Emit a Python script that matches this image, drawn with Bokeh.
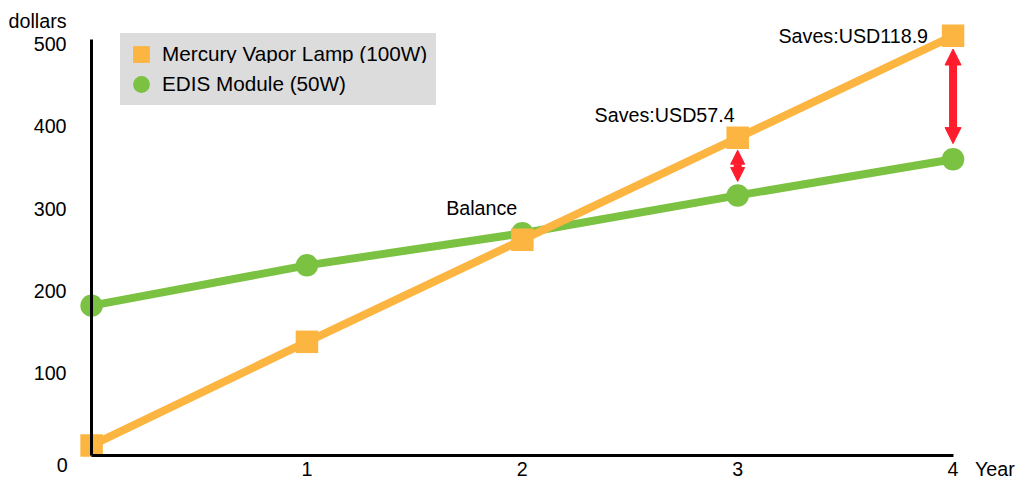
from bokeh.plotting import figure
from bokeh.models import (Range1d, FixedTicker, Legend, LegendItem, Arrow,
                          NormalHead)
from bokeh.core.properties import value
from bokeh.embed import file_html
from bokeh.resources import INLINE

# ---- data ----
years = [0, 1, 2, 3, 4]
mercury = [12, 138, 262, 386, 510]
edis = [182, 231, 270, 316, 360]
x_ticks = [1, 2, 3, 4]
y_ticks = [100, 200, 300, 400, 500]
series_names = ["Mercury Vapor Lamp (100W)", "EDIS Module (50W)"]
note_text = ["Balance", "Saves:USD57.4", "Saves:USD118.9"]
note_x = [2, 3, 4]
note_y = [270, 386, 510]
arrow_x = [3, 4]
arrow_top = [371, 494]
arrow_bottom = [333, 379]
y_axis_top = 506

# ---- layout / style ----
note_dx = [-5, -3, -25]
note_dy = [-25, -23, 0]
arrow_head = [14, 16]
legend_pos = [(120, 404), (120, 374)]
ORANGE = "#FCB541"
GREEN = "#7CC242"
RED = "#FF1C2C"
FONT = "Liberation Sans"
FS = "19.7px"

p = figure(width=1020, height=479, output_backend="svg", toolbar_location=None,
           x_range=Range1d(-0.4229, 4.3132), y_range=Range1d(-29.4, 553.0),
           min_border=0, min_border_left=0, min_border_right=0,
           min_border_top=0, min_border_bottom=0)
p.outline_line_color = None
p.xgrid.visible = False
p.ygrid.visible = False
p.background_fill_color = "white"
p.border_fill_color = "white"

for ax, ticks, bounds, standoff in ((p.xaxis[0], x_ticks, (0, 4), 7),
                                    (p.yaxis[0], y_ticks, (0, y_axis_top), 25)):
    ax.fixed_location = 0
    ax.bounds = bounds
    ax.ticker = FixedTicker(ticks=ticks)
    ax.axis_line_width = 3
    ax.axis_line_color = "black"
    ax.major_tick_in = 0
    ax.major_tick_out = 0
    ax.minor_tick_in = 0
    ax.minor_tick_out = 0
    ax.major_tick_line_color = None
    ax.minor_tick_line_color = None
    ax.major_label_text_font = FONT
    ax.major_label_text_font_size = FS
    ax.major_label_text_color = "black"
    ax.major_label_standoff = standoff

# series
p.line(years, edis, line_color=GREEN, line_width=8)
g = p.scatter(years, edis, marker="circle", size=22.5, fill_color=GREEN, line_color=None)
p.line(years, mercury, line_color=ORANGE, line_width=8)
o = p.scatter(years, mercury, marker="square", size=22.5, fill_color=ORANGE, line_color=None)

# difference arrows
for ax_, top_, bot_, hs in zip(arrow_x, arrow_top, arrow_bottom, arrow_head):
    p.add_layout(Arrow(x_start=ax_, y_start=bot_, x_end=ax_, y_end=top_,
                       start=NormalHead(size=hs, fill_color=RED, line_color=RED, line_width=1),
                       end=NormalHead(size=hs, fill_color=RED, line_color=RED, line_width=1),
                       line_color=RED, line_width=8))

# annotations
p.text(x=note_x, y=note_y, text=note_text, x_offset=note_dx, y_offset=note_dy,
       text_align="right", text_baseline="alphabetic", text_font=value(FONT),
       text_font_size=FS, text_color="black")
p.text(x=[0], y=[y_axis_top], text=["dollars"], x_offset=-25, y_offset=-18.5,
       text_align="right", text_baseline="alphabetic", text_font=value(FONT),
       text_font_size=FS, text_color="black")
p.text(x=[0], y=[0], text=["0"], x_offset=-24, y_offset=10,
       text_align="right", text_baseline="alphabetic", text_font=value(FONT),
       text_font_size=FS, text_color="black")
p.text(x=[4], y=[0], text=["Year"], x_offset=22, y_offset=14,
       text_align="left", text_baseline="alphabetic", text_font=value(FONT),
       text_font_size=FS, text_color="black")

# legend: one box per entry, stacked so their grey backgrounds join
for name, rend, loc in zip(series_names, [o, g], legend_pos):
    lg = Legend(items=[LegendItem(label=name, renderers=[rend])],
                location=loc, background_fill_color="#DCDCDC",
                background_fill_alpha=1.0, border_line_color=None,
                glyph_width=42, glyph_height=42, spacing=0, padding=0,
                label_standoff=0, label_width=274, margin=0,
                label_text_font=FONT, label_text_font_size="20.7px",
                label_text_color="black")
    p.add_layout(lg, "center")

open("out.html", "w").write(file_html(p, INLINE))
